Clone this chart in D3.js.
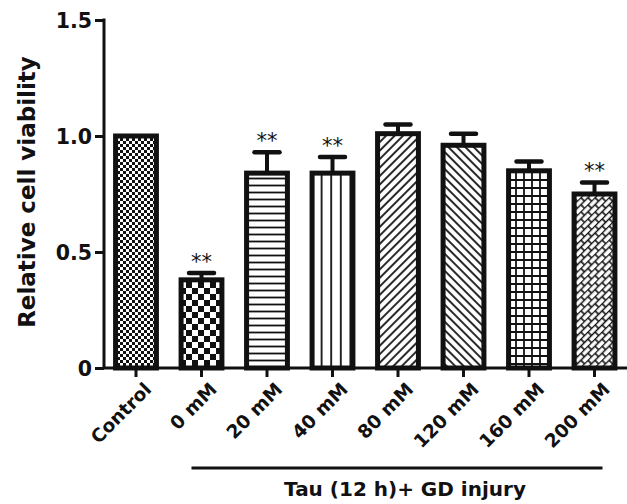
<!DOCTYPE html>
<html>
<head>
<meta charset="utf-8">
<script src="https://cdn.jsdelivr.net/npm/d3@7"></script>
<style>
  body { margin: 0; background: #fff; }
  text { font-family: "DejaVu Sans", sans-serif; font-weight: bold; fill: #111; }
</style>
</head>
<body>
<svg width="627" height="504"></svg>
<script>
// data
const groups = ['Control', '0 mM', '20 mM', '40 mM', '80 mM', '120 mM', '160 mM', '200 mM']
const means = [1.0, 0.38, 0.84, 0.84, 1.01, 0.96, 0.85, 0.75]
const errors = [0, 0.03, 0.09, 0.07, 0.04, 0.05, 0.04, 0.05]
const stars = ['', '**', '**', '**', '', '', '', '**']
const yTicks = [0, 0.5, 1.0, 1.5]
const patterns = ['fineChecker', 'bigChecker', 'hLines', 'vLines', 'diagUp', 'diagDown', 'grid', 'brick']

let svg = d3.select('svg')
let defs = svg.append('defs')

// pattern fills for bars
function pat(id, w, h) {
    let p = defs.append('pattern')
        .attr('id', id)
        .attr('patternUnits', 'userSpaceOnUse')
        .attr('width', w)
        .attr('height', h)
    p.append('rect').attr('width', w).attr('height', h).attr('fill', '#fff')
    return p
}
let p
p = pat('fineChecker', 6, 6)
p.append('rect').attr('width', 3).attr('height', 3).attr('fill', '#111')
p.append('rect').attr('x', 3).attr('y', 3).attr('width', 3).attr('height', 3).attr('fill', '#111')

p = pat('bigChecker', 12, 12)
p.append('rect').attr('width', 6).attr('height', 6).attr('fill', '#111')
p.append('rect').attr('x', 6).attr('y', 6).attr('width', 6).attr('height', 6).attr('fill', '#111')

p = pat('hLines', 10, 7)
p.append('line').attr('x1', 0).attr('x2', 10).attr('y1', 3.5).attr('y2', 3.5).attr('stroke', '#111').attr('stroke-width', 1.8)

p = pat('vLines', 9.6, 10)
p.append('line').attr('x1', 4.8).attr('x2', 4.8).attr('y1', 0).attr('y2', 10).attr('stroke', '#111').attr('stroke-width', 1.8)

p = pat('diagUp', 6, 6).attr('patternTransform', 'rotate(-45)')
p.append('line').attr('x1', 0).attr('x2', 6).attr('y1', 3).attr('y2', 3).attr('stroke', '#111').attr('stroke-width', 1.8)

p = pat('diagDown', 6, 6).attr('patternTransform', 'rotate(45)')
p.append('line').attr('x1', 0).attr('x2', 6).attr('y1', 3).attr('y2', 3).attr('stroke', '#111').attr('stroke-width', 1.8)

p = pat('grid', 8, 8)
p.append('path').attr('d', 'M0,4H8M4,0V8').attr('stroke', '#111').attr('stroke-width', 1.8)

p = pat('brick', 10, 10).attr('patternTransform', 'rotate(-45)')
p.append('path').attr('d', 'M0,0.5H10M0,5.5H10M1,0.5V5.5M6,5.5V10.5').attr('stroke', '#111').attr('stroke-width', 1.6)

let x = d3.scaleBand()
    .domain(groups)
    .range([103.25, 627.25])
    .paddingInner(0.3)
    .paddingOuter(0.15)

let y = d3.scaleLinear()
    .domain([0, 1.5])
    .range([368, 20])

// bars
svg.append('g').selectAll('rect')
    .data(groups)
    .enter().append('rect')
    .attr('x', (d) => x(d) + 2.5)
    .attr('y', (d, i) => y(means[i]))
    .attr('width', x.bandwidth() - 5)
    .attr('height', (d, i) => y(0) - y(means[i]))
    .attr('fill', (d, i) => 'url(#' + patterns[i] + ')')
    .attr('stroke', '#111')
    .attr('stroke-width', 5)

// error bars
let eb = svg.append('g')
groups.forEach(function(g, i) {
    if (!errors[i]) return
    let cx = x(g) + x.bandwidth() / 2
    eb.append('line')
        .attr('x1', cx).attr('x2', cx)
        .attr('y1', y(means[i])).attr('y2', y(means[i] + errors[i]))
        .attr('stroke', '#111').attr('stroke-width', 4)
    eb.append('line')
        .attr('x1', cx - 12.5).attr('x2', cx + 12.5)
        .attr('y1', y(means[i] + errors[i])).attr('y2', y(means[i] + errors[i]))
        .attr('stroke', '#111').attr('stroke-width', 4.5)
        .attr('stroke-linecap', 'round')
})

// significance stars
svg.append('g').selectAll('text')
    .data(groups)
    .enter().append('text')
    .attr('x', (d) => x(d) + x.bandwidth() / 2)
    .attr('y', (d, i) => y(means[i] + errors[i]) - 4)
    .attr('text-anchor', 'middle')
    .style('font-weight', 'normal')
    .style('font-size', '21px')
    .text((d, i) => stars[i])

// y axis
let yAxis = svg.append('g')
    .attr('transform', 'translate(104,0)')
    .call(d3.axisLeft(y).tickValues(yTicks).tickSize(9).tickPadding(3)
        .tickFormat((d) => d === 0 ? '0' : d3.format('.1f')(d)))
yAxis.select('.domain').attr('stroke', '#111').attr('stroke-width', 3).attr('d', 'M0,368V18.5')
yAxis.selectAll('.tick line').attr('stroke', '#111').attr('stroke-width', 3)
yAxis.selectAll('.tick text')
    .style('font-size', '20.5px')
    .attr('dy', '0.36em')

// x axis
let xAxis = svg.append('g')
    .attr('transform', 'translate(0,368)')
    .call(d3.axisBottom(x).tickSize(9).tickSizeOuter(0))
xAxis.select('.domain').attr('stroke', '#111').attr('stroke-width', 3).attr('d', 'M103,0H627')
xAxis.selectAll('.tick line').attr('stroke', '#111').attr('stroke-width', 3)
xAxis.selectAll('.tick text')
    .style('font-size', '18.5px')
    .attr('text-anchor', 'end')
    .attr('transform', 'translate(12,18) rotate(-45)')
    .attr('y', 0).attr('dy', '0.35em')

// y title
svg.append('text')
    .attr('transform', 'translate(35,192) rotate(-90)')
    .attr('text-anchor', 'middle')
    .style('font-size', '23px')
    .text('Relative cell viability')

// group bracket and label
svg.append('line')
    .attr('x1', x('0 mM') + x.bandwidth() / 2 - 10)
    .attr('x2', x('200 mM') + x.bandwidth() / 2 + 8)
    .attr('y1', 468).attr('y2', 468)
    .attr('stroke', '#111').attr('stroke-width', 3)
svg.append('text')
    .attr('x', 405).attr('y', 496)
    .attr('text-anchor', 'middle')
    .style('font-size', '20px')
    .text('Tau (12 h)+ GD injury')
</script>
</body>
</html>
